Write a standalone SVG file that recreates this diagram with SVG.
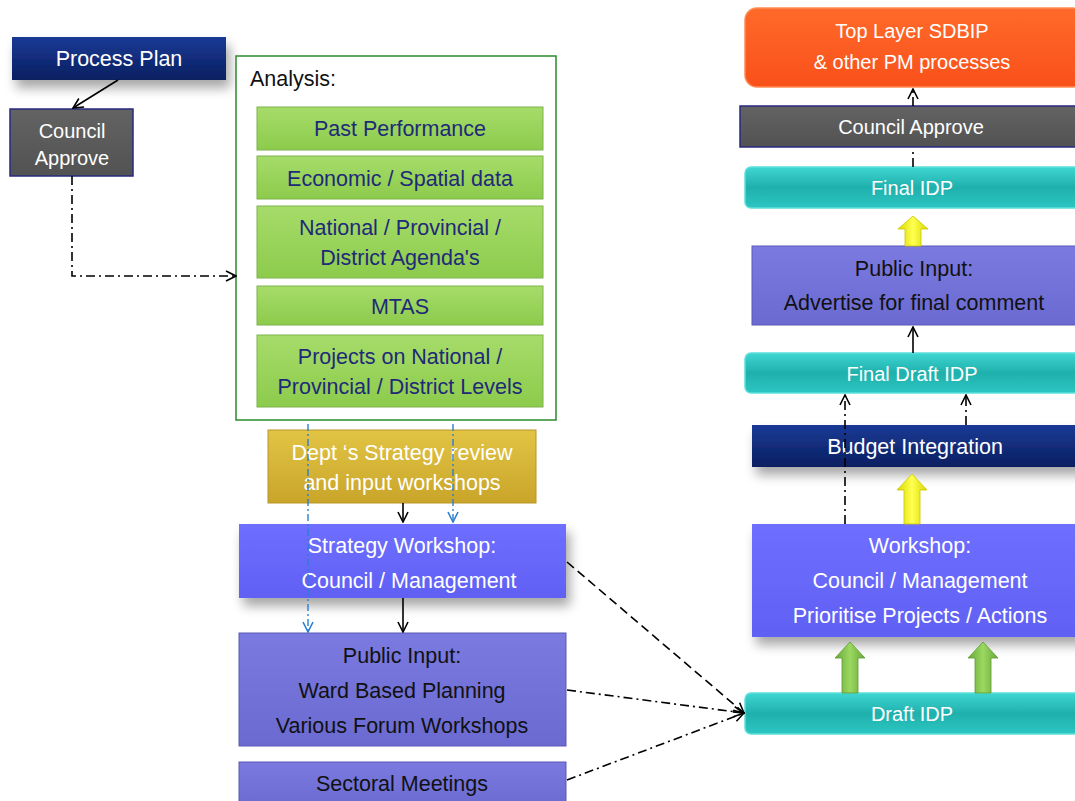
<svg xmlns="http://www.w3.org/2000/svg" width="1075" height="801" viewBox="0 0 1075 801">
<defs>
<style>
text{font-family:"Liberation Sans",Arial,sans-serif;font-size:21.5px;text-anchor:middle}
.w{fill:#ffffff}.k{fill:#111111}.n{fill:#1e2a78}
.s{font-size:20px}
.c{fill:none;stroke:#000;stroke-width:1.6}
.dd{stroke-dasharray:9 4 2 4}
.ds{stroke-dasharray:9 5}
.bl{fill:none;stroke:#2a7fd0;stroke-width:1.4;stroke-dasharray:7 3 2 3}
</style>
<linearGradient id="gNavy" x1="0" y1="0" x2="0" y2="1"><stop offset="0" stop-color="#1a3a96"/><stop offset="1" stop-color="#0a1f60"/></linearGradient>
<linearGradient id="gGray" x1="0" y1="0" x2="0" y2="1"><stop offset="0" stop-color="#636363"/><stop offset="1" stop-color="#525252"/></linearGradient>
<linearGradient id="gGreen" x1="0" y1="0" x2="0" y2="1"><stop offset="0" stop-color="#a6dc6a"/><stop offset="1" stop-color="#8ccb4c"/></linearGradient>
<linearGradient id="gGold" x1="0" y1="0" x2="0" y2="1"><stop offset="0" stop-color="#e2c444"/><stop offset="1" stop-color="#c9a52a"/></linearGradient>
<linearGradient id="gViolet" x1="0" y1="0" x2="0" y2="1"><stop offset="0" stop-color="#6e6eff"/><stop offset="1" stop-color="#6060f4"/></linearGradient>
<linearGradient id="gSlate" x1="0" y1="0" x2="0" y2="1"><stop offset="0" stop-color="#7a7ae0"/><stop offset="1" stop-color="#6a6ad0"/></linearGradient>
<linearGradient id="gTeal" x1="0" y1="0" x2="0" y2="1"><stop offset="0" stop-color="#3fd6d2"/><stop offset="0.5" stop-color="#1fb0ac"/><stop offset="1" stop-color="#2cc6c2"/></linearGradient>
<linearGradient id="gOrange" x1="0" y1="0" x2="0" y2="1"><stop offset="0" stop-color="#ff6a2a"/><stop offset="1" stop-color="#f9501a"/></linearGradient>
<linearGradient id="gYel" x1="0" y1="0" x2="1" y2="0"><stop offset="0" stop-color="#d8d800"/><stop offset="0.5" stop-color="#ffff50"/><stop offset="1" stop-color="#d8d800"/></linearGradient>
<linearGradient id="gGr" x1="0" y1="0" x2="1" y2="0"><stop offset="0" stop-color="#6aa83a"/><stop offset="0.5" stop-color="#9ad860"/><stop offset="1" stop-color="#6aa83a"/></linearGradient>
<filter id="sh" x="-20%" y="-30%" width="140%" height="180%"><feGaussianBlur in="SourceAlpha" stdDeviation="6"/><feOffset dx="4" dy="8" result="b"/><feComponentTransfer><feFuncA type="linear" slope="0.35"/></feComponentTransfer><feMerge><feMergeNode/><feMergeNode in="SourceGraphic"/></feMerge></filter>
<marker id="ah" viewBox="0 0 12 12" refX="11" refY="6" markerWidth="12" markerHeight="12" markerUnits="userSpaceOnUse" orient="auto"><path d="M1,1 L11,6 L1,11" fill="none" stroke="#000" stroke-width="1.6"/></marker>
<marker id="ahb" viewBox="0 0 12 12" refX="11" refY="6" markerWidth="12" markerHeight="12" markerUnits="userSpaceOnUse" orient="auto"><path d="M1,1 L11,6 L1,11" fill="none" stroke="#2a7fd0" stroke-width="1.6"/></marker>
</defs>

<g id="process-plan"><rect x="12" y="37" width="214" height="43" fill="url(#gNavy)" filter="url(#sh)"/><text class="w" x="119" y="66">Process Plan</text></g>
<g id="council-approve-left"><rect x="10" y="109" width="123" height="67" fill="url(#gGray)" stroke="#2a2a80" stroke-width="1.5"/><text class="w s" x="72" y="138">Council</text><text class="w s" x="72" y="165">Approve</text></g>

<g id="analysis"><rect x="236" y="56" width="320" height="364" fill="#fff" stroke="#2a8a2a" stroke-width="1.5"/><text class="k" x="250" y="86" style="text-anchor:start">Analysis:</text></g>
<g id="past-performance"><rect x="257" y="107" width="286" height="43" fill="url(#gGreen)" stroke="#7fb24a" stroke-width="1"/><text class="n" x="400" y="136">Past Performance</text></g>
<g id="economic"><rect x="257" y="156" width="286" height="43" fill="url(#gGreen)" stroke="#7fb24a" stroke-width="1"/><text class="n" x="400" y="186">Economic / Spatial data</text></g>
<g id="national"><rect x="257" y="206" width="286" height="72" fill="url(#gGreen)" stroke="#7fb24a" stroke-width="1"/><text class="n" x="400" y="235">National  / Provincial /</text><text class="n" x="400" y="265">District Agenda's</text></g>
<g id="mtas"><rect x="257" y="286" width="286" height="39" fill="url(#gGreen)" stroke="#7fb24a" stroke-width="1"/><text class="n" x="400" y="314">MTAS</text></g>
<g id="projects"><rect x="257" y="335" width="286" height="72" fill="url(#gGreen)" stroke="#7fb24a" stroke-width="1"/><text class="n" x="400" y="364">Projects on National /</text><text class="n" x="400" y="394">Provincial / District Levels</text></g>

<g id="dept-strategy"><rect x="268" y="430" width="268" height="73" fill="url(#gGold)" stroke="#b8962a" stroke-width="1"/><text class="w" x="402" y="460">Dept ‘s Strategy review</text><text class="w" x="402" y="490">and input workshops</text></g>
<g id="strategy-workshop"><rect x="239" y="524" width="327" height="74" fill="url(#gViolet)" filter="url(#sh)"/><text class="w" x="402" y="553">Strategy Workshop:</text><text class="w" x="409" y="588">Council  / Management</text></g>
<g id="public-input-left"><rect x="239" y="633" width="327" height="113" fill="url(#gSlate)" stroke="#5a5ab8" stroke-width="1"/><text class="k" x="402" y="663">Public Input:</text><text class="k" x="402" y="698">Ward Based Planning</text><text class="k" x="402" y="733">Various Forum Workshops</text></g>
<g id="sectoral"><rect x="239" y="762" width="327" height="45" fill="url(#gSlate)" stroke="#5a5ab8" stroke-width="1"/><text class="k" x="402" y="791">Sectoral Meetings</text></g>

<g id="top-layer"><rect x="745" y="8" width="340" height="79" rx="12" fill="url(#gOrange)" stroke="#ff8a55" stroke-width="1.5"/><text class="w s" x="912" y="38">Top Layer SDBIP</text><text class="w s" x="912" y="69">&amp; other PM processes</text></g>
<g id="council-approve-right"><rect x="740" y="106" width="345" height="41" fill="url(#gGray)" stroke="#2a2a80" stroke-width="1.5"/><text class="w s" x="911" y="134">Council Approve</text></g>
<g id="final-idp"><rect x="745" y="167" width="340" height="41" rx="6" fill="url(#gTeal)" stroke="#5ee0dc" stroke-width="1.5"/><text class="w s" x="912" y="195">Final IDP</text></g>
<g id="public-input-right"><rect x="752" y="246" width="333" height="79" fill="url(#gSlate)" stroke="#5a5ab8" stroke-width="1"/><text class="k" x="914" y="276">Public Input:</text><text class="k" x="914" y="310">Advertise for final comment</text></g>
<g id="final-draft-idp"><rect x="745" y="353" width="340" height="40" rx="6" fill="url(#gTeal)" stroke="#5ee0dc" stroke-width="1.5"/><text class="w s" x="912" y="381">Final Draft IDP</text></g>
<g id="budget-integration"><rect x="752" y="425" width="333" height="42" fill="url(#gNavy)" filter="url(#sh)"/><text class="w" x="915" y="454">Budget Integration</text></g>
<g id="workshop-right"><rect x="752" y="524" width="333" height="113" fill="url(#gViolet)" filter="url(#sh)"/><text class="w" x="920" y="553">Workshop:</text><text class="w" x="920" y="588">Council  / Management</text><text class="w" x="920" y="623">Prioritise Projects / Actions</text></g>
<g id="draft-idp"><rect x="745" y="693" width="340" height="41" rx="6" fill="url(#gTeal)" stroke="#5ee0dc" stroke-width="1.5"/><text class="w s" x="912" y="721">Draft IDP</text></g>

<g id="connectors">
<line class="c" x1="118" y1="80" x2="73" y2="108" marker-end="url(#ah)"/>
<polyline class="c dd" points="72,176 72,276 236,276" marker-end="url(#ah)"/>
<line class="bl" x1="308" y1="424" x2="308" y2="632" marker-end="url(#ahb)"/>
<line class="bl" x1="453" y1="424" x2="453" y2="522" marker-end="url(#ahb)"/>
<line class="c" x1="403" y1="503" x2="403" y2="522" marker-end="url(#ah)"/>
<line class="c" x1="403" y1="598" x2="403" y2="632" marker-end="url(#ah)"/>
<line class="c ds" x1="567" y1="562" x2="744" y2="713" marker-end="url(#ah)"/>
<line class="c dd" x1="567" y1="690" x2="744" y2="713" marker-end="url(#ah)"/>
<line class="c dd" x1="567" y1="780" x2="744" y2="713" marker-end="url(#ah)"/>
<line class="c dd" x1="913" y1="167" x2="913" y2="148"/>
<line class="c dd" x1="913" y1="106" x2="913" y2="89" marker-end="url(#ah)"/>
<line class="c" x1="913" y1="353" x2="913" y2="327" marker-end="url(#ah)"/>
<line class="c dd" x1="845" y1="524" x2="845" y2="395" marker-end="url(#ah)"/>
<line class="c dd" x1="966" y1="425" x2="966" y2="395" marker-end="url(#ah)"/>
<polygon points="905,246 905,229 898,229 913,216 928,229 921,229 921,246" fill="url(#gYel)" stroke="#c8c800" stroke-width="0.8"/>
<polygon points="904,524 904,490 897,490 912,474 927,490 920,490 920,524" fill="url(#gYel)" stroke="#c8c800" stroke-width="0.8"/>
<polygon points="842,693 842,658 835,658 850,642 865,658 858,658 858,693" fill="url(#gGr)" stroke="#5a9a30" stroke-width="0.8"/>
<polygon points="975,693 975,658 968,658 983,642 998,658 991,658 991,693" fill="url(#gGr)" stroke="#5a9a30" stroke-width="0.8"/>
</g>
</svg>
